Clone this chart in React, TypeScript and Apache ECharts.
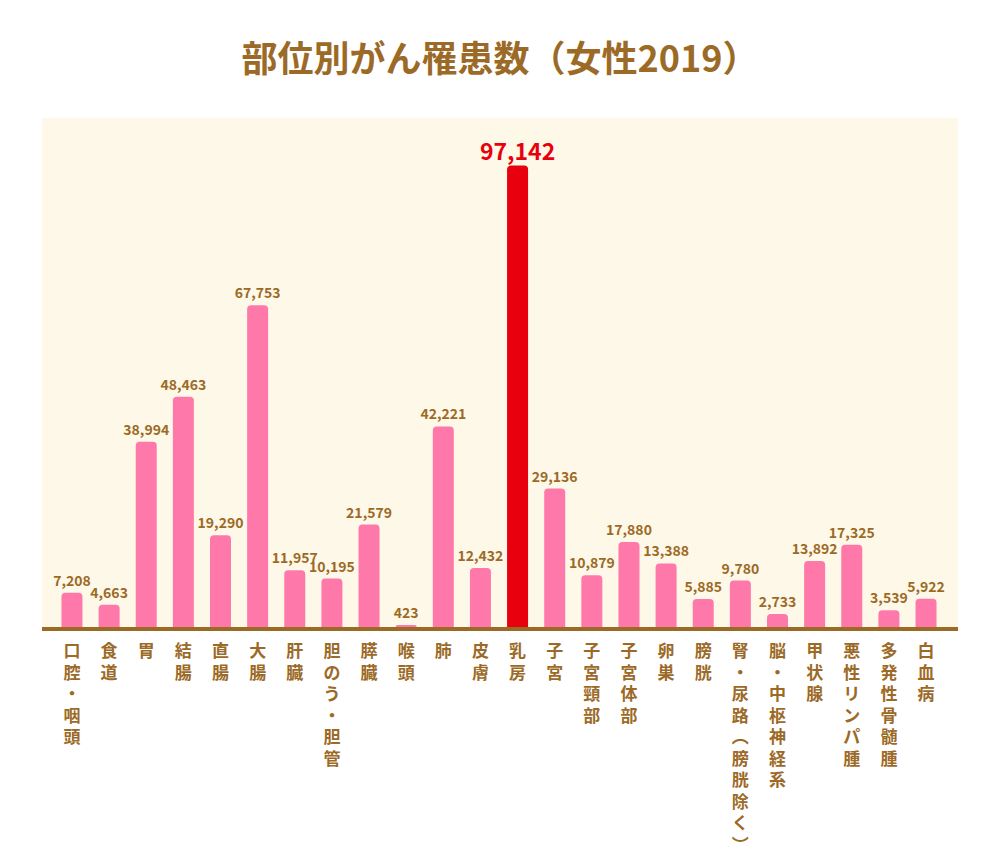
import React, { useEffect, useRef } from "react";
import * as echarts from "echarts";

const titleText = "部位別がん罹患数（女性2019）";
const categories = [
  "口腔・咽頭", "食道", "胃", "結腸", "直腸", "大腸", "肝臓", "胆のう・胆管", "膵臓", "喉頭",
  "肺", "皮膚", "乳房", "子宮", "子宮頸部", "子宮体部", "卵巣", "膀胱", "腎・尿路（膀胱除く）",
  "脳・中枢神経系", "甲状腺", "悪性リンパ腫", "多発性骨髄腫", "白血病",
];
const values = [
  7208, 4663, 38994, 48463, 19290, 67753, 11957, 10195, 21579, 423,
  42221, 12432, 97142, 29136, 10879, 17880, 13388, 5885, 9780,
  2733, 13892, 17325, 3539, 5922,
];
const highlight = "乳房";

const BROWN = "#9c6a27";
const PINK = "#ff78aa";
const RED = "#e8000e";
const BG = "#fef8e8";
const FONT = "'Noto Sans CJK JP', 'Noto Sans', sans-serif";

function verticalize(s: string): string {
  return s
    .replace(/（/g, "︵")
    .replace(/）/g, "︶")
    .split("")
    .join("\n");
}

export default function App() {
  const ref = useRef<HTMLDivElement>(null);
  useEffect(() => {
    if (!ref.current) return;
    const chart = echarts.init(ref.current, undefined, { renderer: "svg" });
    const fmt = (v: number) => v.toLocaleString("en-US");
    chart.setOption({
      animation: false,
      backgroundColor: "#ffffff",
      title: {
        text: titleText,
        left: "center",
        top: 33,
        textStyle: {
          color: BROWN,
          fontSize: 36,
          fontWeight: "bold",
          fontFamily: FONT,
        },
      },
      graphic: [
        {
          type: "rect",
          z: -10,
          silent: true,
          shape: { x: 42, y: 118, width: 916, height: 510 },
          style: { fill: BG },
        },
        {
          type: "rect",
          z: 10,
          silent: true,
          shape: { x: 42, y: 627, width: 916, height: 4 },
          style: { fill: BROWN },
        },
      ],
      grid: { left: 53.4, right: 55.4, top: 152, bottom: 240, containLabel: false },
      xAxis: {
        type: "category",
        data: categories,
        axisLine: { show: false },
        axisTick: { show: false },
        axisLabel: {
          interval: 0,
          margin: 12,
          color: BROWN,
          fontSize: 17,
          fontWeight: "bold",
          fontFamily: FONT,
          lineHeight: 21.5,
          verticalAlign: "top",
          formatter: (v: string) => verticalize(v),
        },
      },
      yAxis: {
        type: "value",
        min: 0,
        max: 100000,
        show: false,
        splitLine: { show: false },
      },
      series: [
        {
          type: "bar",
          barWidth: 21,
          data: values.map((v, i) => {
            const hi = categories[i] === highlight;
            return {
              value: v,
              itemStyle: { color: hi ? RED : PINK, borderRadius: [4, 4, 0, 0] },
              label: hi
                ? { color: RED, fontSize: 23, distance: 4 }
                : undefined,
            };
          }),
          label: {
            show: true,
            position: "top",
            distance: 6,
            color: BROWN,
            fontSize: 14,
            fontWeight: "bold",
            fontFamily: FONT,
            formatter: (p: any) => fmt(p.value),
          },
        },
      ],
    });
    return () => chart.dispose();
  }, []);
  return (
    <div
      ref={ref}
      style={{ position: "absolute", left: 0, top: 0, width: 1000, height: 867 }}
    />
  );
}
